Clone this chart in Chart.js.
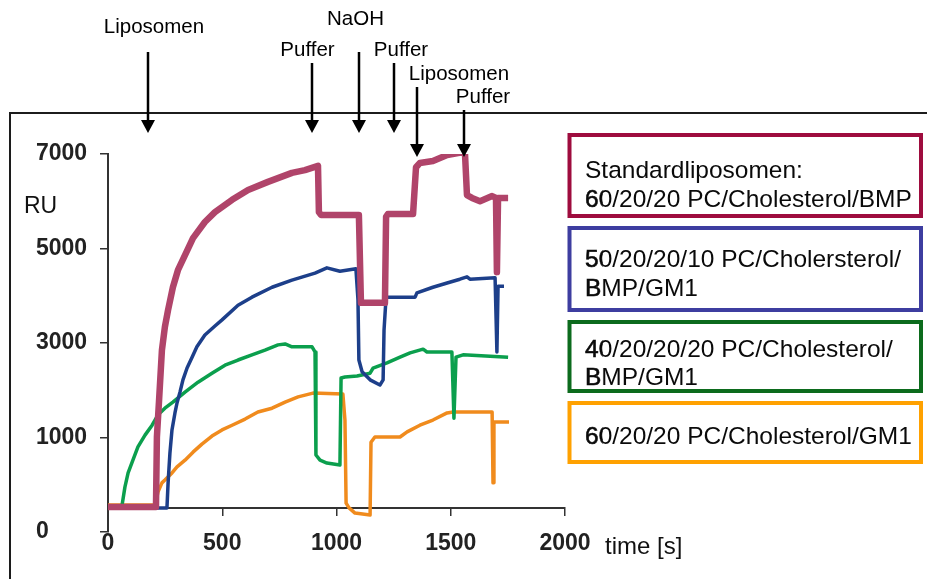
<!DOCTYPE html>
<html>
<head>
<meta charset="utf-8">
<title>RU vs. time</title>
<script src="https://cdn.jsdelivr.net/npm/chart.js@4/dist/chart.umd.min.js"></script>
<style>
  html, body { margin: 0; padding: 0; background: #fff; }
  #wrap { width: 927px; height: 579px; }
</style>
</head>
<body>
<div id="wrap"><canvas id="c" width="927" height="579"></canvas></div>
<script>
// ---- sensorgram data: time [s] and response [RU] per liposome type ----
const stdLipoTime = [0,210,214,223,236,249,263,284,306,337,372,424,468,543,613,700,805,862,919,923,932,1098,1107,1212,1217,1225,1335,1348,1365,1422,1484,1532,1562,1571,1593,1628,1681,1698,1702,1707,1751];
const stdLipoRU   = [-470,-470,1010,1750,2850,3340,3700,4180,4540,4860,5220,5560,5770,6030,6240,6410,6600,6660,6750,5770,5710,5710,3850,3850,5670,5730,5730,6720,6810,6850,6980,7020,7040,6130,6070,6000,6110,6070,4500,6070,6070];

const gm10Time = [0,210,258,263,271,280,293,302,315,328,346,368,389,424,468,499,569,630,718,805,906,958,1015,1085,1094,1098,1112,1147,1190,1204,1208,1217,1344,1352,1422,1484,1540,1571,1584,1694,1702,1707,1733];
const gm10RU   = [-490,-490,-490,40,670,1160,1520,1730,1960,2220,2470,2700,2920,3170,3360,3490,3800,3970,4180,4330,4480,4590,4520,4570,3910,2640,2390,2220,2110,2220,3270,3970,3970,4060,4180,4270,4350,4400,4350,4380,2810,4200,4200];

const gm20Time = [0,61,74,88,109,131,162,193,219,249,284,337,394,455,512,569,630,687,744,775,805,893,906,910,928,958,1015,1020,1037,1090,1147,1160,1221,1278,1322,1379,1396,1505,1514,1523,1554,1751];
const gm20RU   = [-450,-450,-50,250,520,800,1050,1260,1480,1620,1750,1960,2170,2360,2530,2640,2750,2850,2960,2980,2920,2920,2810,630,520,460,420,2260,2280,2300,2360,2470,2580,2700,2790,2870,2810,2810,1410,2700,2750,2700];

const gm1Time = [0,206,219,236,249,280,302,337,372,411,455,499,543,600,656,718,775,832,897,1028,1037,1042,1055,1081,1147,1151,1168,1278,1309,1365,1422,1484,1510,1681,1685,1689,1755];
const gm1RU   = [-430,-430,-150,40,100,250,380,520,690,860,1030,1160,1260,1390,1540,1620,1750,1860,1940,1920,1370,-390,-490,-600,-640,900,1010,1010,1120,1260,1370,1520,1540,1540,40,1330,1330];

// legend text, one entry per series
const legendLines = [
  ['Standardliposomen:', '60/20/20 PC/Cholesterol/BMP'],
  ['50/20/20/10 PC/Cholersterol/', 'BMP/GM1'],
  ['40/20/20/20 PC/Cholesterol/', 'BMP/GM1'],
  ['60/20/20 PC/Cholesterol/GM1']
];

// injections marked above the plot
const eventLabels = ['Liposomen', 'Puffer', 'NaOH', 'Puffer', 'Liposomen', 'Puffer'];
const eventTimes  = [175, 894, 1098, 1253, 1352, 1559];

// axis ticks
const yTickValues = [-1000, 1000, 3000, 5000, 7000];
const yTickLabels = ['0', '1000', '3000', '5000', '7000'];
const xTickStep = 500;

// ---- styling ----
const FONT = "'Liberation Sans', Arial, Helvetica, sans-serif";
const lineColors   = ['#b0446a', '#1d3f8a', '#0b9f4d', '#f08b1d'];
const lineWidths   = [6.5, 3.5, 3.5, 3.5];
const legendColors = ['#9e0c3e', '#3d3da0', '#0c6b1d', '#ffa100'];
const legendBoxes  = [
  { top: 135, bottom: 216, baselines: [178, 207], heavy: [false, true] },
  { top: 228, bottom: 310, baselines: [267, 296], heavy: [true, true] },
  { top: 322, bottom: 391, baselines: [357, 385], heavy: [true, true] },
  { top: 403, bottom: 462, baselines: [444],      heavy: [true] }
];
const arrowStyle = {
  shaftTop:  [52, 63, 52, 63, 87, 110],
  tip:       [133, 133, 133, 133, 157, 157],
  labelDx:   [6, -4.5, -3.5, 7, 42, 19],
  baseline:  [33, 56, 25, 56, 80, 103]
};

function toPoints(ts, vs) { return ts.map((t, i) => ({ x: t, y: vs[i] })); }

const series = [
  [stdLipoTime, stdLipoRU],
  [gm10Time, gm10RU],
  [gm20Time, gm20RU],
  [gm1Time, gm1RU]
];

const datasets = series.map(([ts, vs], i) => ({
  label: legendLines[i].join(' '),
  data: toPoints(ts, vs),
  borderColor: lineColors[i],
  backgroundColor: lineColors[i],
  borderWidth: lineWidths[i],
  borderJoinStyle: 'round',
  borderCapStyle: 'butt',
  pointRadius: 0,
  tension: 0,
  fill: false
}));

const whiteBg = {
  id: 'whiteBg',
  beforeDraw(chart) {
    const ctx = chart.ctx;
    ctx.save();
    ctx.fillStyle = '#fff';
    ctx.fillRect(0, 0, chart.width, chart.height);
    // outer frame (top and left edges)
    ctx.strokeStyle = '#1c1c1c';
    ctx.lineWidth = 2;
    ctx.beginPath();
    ctx.moveTo(9, 113);
    ctx.lineTo(chart.width, 113);
    ctx.moveTo(10, 112);
    ctx.lineTo(10, chart.height);
    ctx.stroke();
    ctx.restore();
  }
};

const decorations = {
  id: 'decorations',
  afterDraw(chart) {
    const ctx = chart.ctx;
    const xs = chart.scales.x;
    ctx.save();

    // axis titles
    ctx.fillStyle = '#111';
    ctx.textBaseline = 'alphabetic';
    ctx.textAlign = 'left';
    ctx.font = '23px ' + FONT;
    ctx.fillText('RU', 24, 213);
    ctx.font = '24px ' + FONT;
    ctx.fillText('time [s]', 605, 554);

    // injection arrows
    ctx.fillStyle = '#000';
    ctx.strokeStyle = '#000';
    ctx.font = '20.5px ' + FONT;
    ctx.textAlign = 'center';
    eventLabels.forEach((lab, i) => {
      const x = Math.round(xs.getPixelForValue(eventTimes[i]));
      const top = arrowStyle.shaftTop[i];
      const tip = arrowStyle.tip[i];
      ctx.lineWidth = 2.5;
      ctx.beginPath();
      ctx.moveTo(x, top);
      ctx.lineTo(x, tip - 8);
      ctx.stroke();
      ctx.beginPath();
      ctx.moveTo(x - 7, tip - 13);
      ctx.lineTo(x + 7, tip - 13);
      ctx.lineTo(x, tip);
      ctx.closePath();
      ctx.fill();
      ctx.fillText(lab, x + arrowStyle.labelDx[i], arrowStyle.baseline[i]);
    });

    // legend boxes
    const left = 569.5, right = 921;
    ctx.textAlign = 'left';
    ctx.font = '24.5px ' + FONT;
    legendBoxes.forEach((b, i) => {
      ctx.strokeStyle = legendColors[i];
      ctx.lineWidth = 4;
      ctx.strokeRect(left, b.top, right - left, b.bottom - b.top);
      ctx.fillStyle = '#0a0a0a';
      legendLines[i].forEach((txt, j) => {
        ctx.fillText(txt, 585, b.baselines[j]);
        if (b.heavy[j]) {
          ctx.save();
          ctx.beginPath();
          ctx.rect(575, b.baselines[j] - 30, 28, 40);
          ctx.clip();
          ctx.strokeStyle = '#0a0a0a';
          ctx.lineWidth = 0.6;
          ctx.strokeText(txt, 585, b.baselines[j]);
          ctx.restore();
        }
      });
    });
    ctx.restore();
  }
};

new Chart(document.getElementById('c'), {
  type: 'line',
  data: { datasets },
  plugins: [whiteBg, decorations],
  options: {
    responsive: false,
    devicePixelRatio: 1,
    animation: false,
    events: [],
    layout: { padding: { left: 36, right: 362, top: 154, bottom: 47 } },
    plugins: { legend: { display: false }, tooltip: { enabled: false } },
    scales: {
      x: {
        type: 'linear',
        min: 0,
        max: 2000,
        position: { y: -490 },
        afterFit(s) { s.height = 0; },
        ticks: {
          stepSize: xTickStep,
          maxRotation: 0,
          padding: 15,
          color: '#222',
          font: { family: FONT, size: 23, weight: 'bold' },
          callback: (v) => String(v)
        },
        grid: { display: true, drawOnChartArea: false, drawTicks: true, tickLength: 7, color: '#333', lineWidth: 1.5 },
        border: { display: true, color: '#333', width: 2 }
      },
      y: {
        type: 'linear',
        min: -1000,
        max: 7000,
        afterFit(s) { s.width = 72; },
        afterBuildTicks(s) { s.ticks = yTickValues.map(v => ({ value: v })); },
        ticks: {
          autoSkip: false,
          crossAlign: 'far',
          color: '#222',
          font: { family: FONT, size: 23, weight: 'bold' },
          callback: (v) => yTickLabels[yTickValues.indexOf(v)]
        },
        grid: { display: true, drawOnChartArea: false, drawTicks: true, tickLength: 8, color: '#333', lineWidth: 1.5 },
        border: { display: true, color: '#333', width: 2 }
      }
    }
  }
});
</script>
</body>
</html>
